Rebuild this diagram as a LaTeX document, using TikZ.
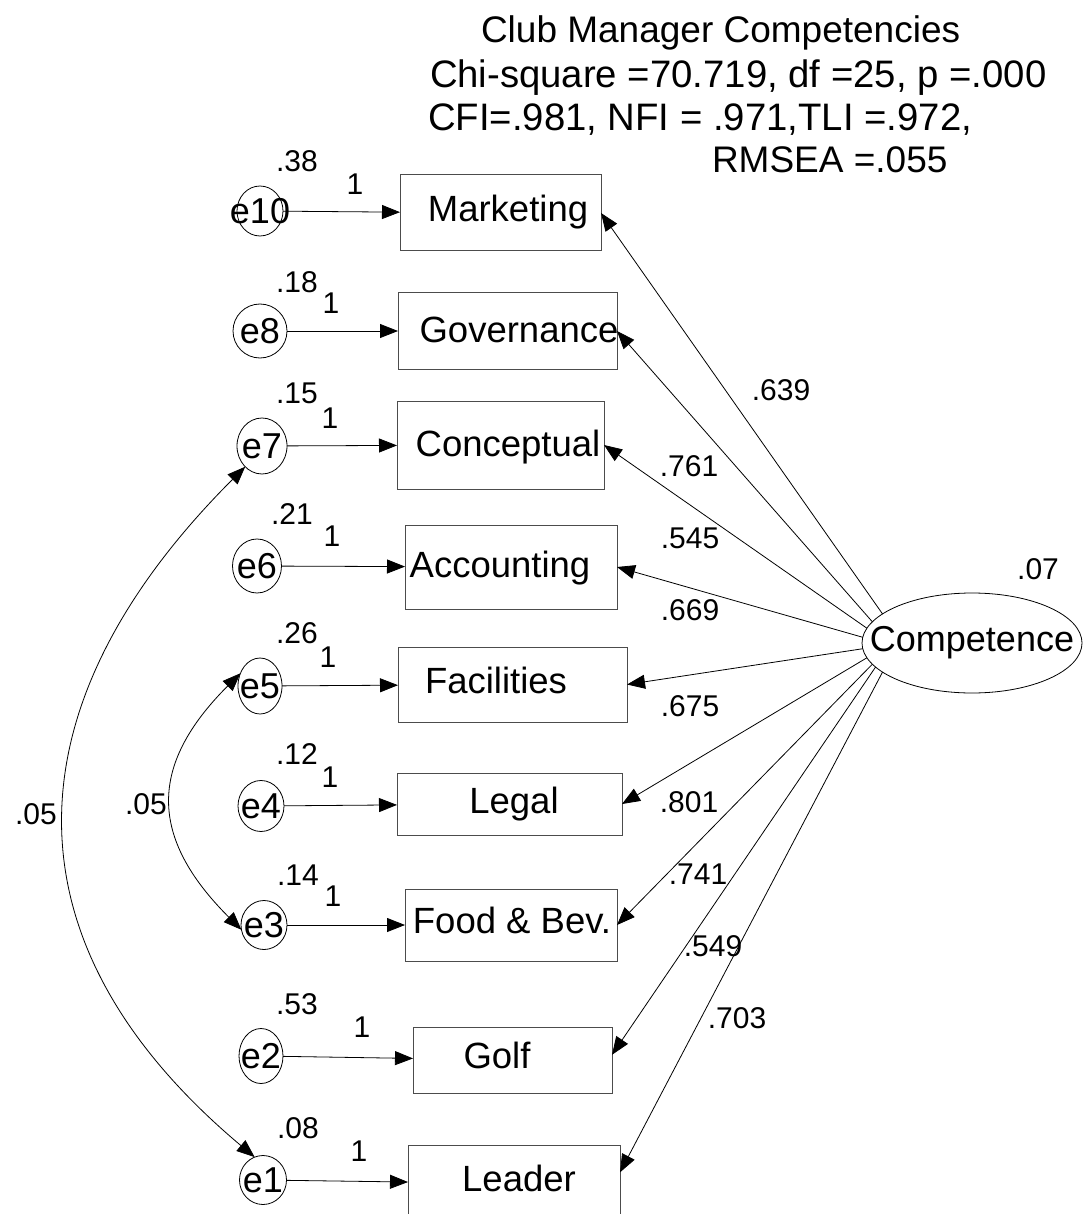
\documentclass[tikz,border=0pt]{standalone}
\usepackage{fontspec}
\setmainfont{Liberation Sans}
\usetikzlibrary{arrows.meta,shapes.geometric}
\begin{document}
\begin{tikzpicture}[x=1pt,y=1pt,
  every node/.style={inner sep=0pt, outer sep=0pt},
  big/.style={font=\fontsize{36.5}{43}\selectfont},
  num/.style={font=\fontsize{30}{36}\selectfont},
  ttl/.style={font=\fontsize{37}{44}\selectfont, anchor=base west},
  ttlw/.style={font=\fontsize{38.3}{44}\selectfont, anchor=base west},
  obs/.style={draw=black!70, line width=1pt, rectangle},
  err/.style={draw, ellipse, line width=0.8pt, font=\fontsize{36}{43}\selectfont},
  arr/.style={-{Triangle[length=18pt,width=14pt]}, line width=0.8pt},
  biarr/.style={{Triangle[length=18pt,width=14pt]}-{Triangle[length=18pt,width=14pt]}, line width=0.8pt}
]
\useasboundingbox (0,0) rectangle (1085,-1214);

% title
\node[ttl] (t1) at (481,-43) {Club Manager Competencies};
\node[ttlw] (t2) at (430,-88) {Chi-square =70.719, df =25, p =.000};
\node[ttlw] (t3) at (428,-131) {CFI=.981, NFI = .971,TLI =.972,};
\node[ttl] (t4) at (712,-173) {RMSEA =.055};

% observed boxes
\node[obs, minimum width=201pt, minimum height=76pt] (mkt)  at (500.5,-213) {};
\node[obs, minimum width=219pt, minimum height=76pt] (gov)  at (507.5,-331) {};
\node[obs, minimum width=207pt, minimum height=88pt] (con)  at (500.5,-445) {};
\node[obs, minimum width=212pt, minimum height=84pt] (acc)  at (511,-567) {};
\node[obs, minimum width=229pt, minimum height=75pt] (fac)  at (512.5,-684.5) {};
\node[obs, minimum width=225pt, minimum height=62pt] (leg)  at (509.5,-804) {};
\node[obs, minimum width=212pt, minimum height=72pt] (food) at (511,-925) {};
\node[obs, minimum width=199pt, minimum height=66pt] (golf) at (512.5,-1060) {};
\node[obs, minimum width=212pt, minimum height=77pt] (lead) at (514,-1183.5) {};

% box texts
\node[big, anchor=base] (tmkt)  at (508,-222) {Marketing};
\node[big, anchor=base] (tgov)  at (519,-342) {Governance};
\node[big, anchor=base] (tcon)  at (508,-456) {Conceptual};
\node[big, anchor=base] (tacc)  at (500,-577) {Accounting};
\node[big, anchor=base] (tfac)  at (496,-693) {Facilities};
\node[big, anchor=base] (tleg)  at (514,-813) {Legal};
\node[big, anchor=base] (tfood) at (512,-933) {Food \& Bev.};
\node[big, anchor=base] (tgolf) at (497,-1068) {Golf};
\node[big, anchor=base] (tlead) at (519,-1191) {Leader};

% error terms
\node[err, minimum width=46pt, minimum height=50pt] (e10) at (260,-211) {\makebox[0pt]{e10}};
\node[err, minimum width=54pt, minimum height=54pt] (e8)  at (260,-331) {\makebox[0pt]{e8}};
\node[err, minimum width=50pt, minimum height=56pt] (e7)  at (262,-446) {\makebox[0pt]{e7}};
\node[err, minimum width=49pt, minimum height=54pt] (e6)  at (257,-566) {\makebox[0pt]{e6}};
\node[err, minimum width=44pt, minimum height=56pt] (e5)  at (260,-686) {\makebox[0pt]{e5}};
\node[err, minimum width=46pt, minimum height=51pt] (e4)  at (261,-806) {\makebox[0pt]{e4}};
\node[err, minimum width=46pt, minimum height=49pt] (e3)  at (264,-925) {\makebox[0pt]{e3}};
\node[err, minimum width=44pt, minimum height=55pt] (e2)  at (261,-1056) {\makebox[0pt]{e2}};
\node[err, minimum width=47pt, minimum height=49pt] (e1)  at (263,-1180) {\makebox[0pt]{e1}};

% latent
\node[err, minimum width=220pt, minimum height=100pt] (comp) at (972,-643) {\makebox[0pt]{Competence}};

% error paths
\draw[arr] (e10) -- (mkt);
\draw[arr] (e8) -- (gov);
\draw[arr] (e7) -- (con);
\draw[arr] (e6) -- (acc);
\draw[arr] (e5) -- (fac);
\draw[arr] (e4) -- (leg);
\draw[arr] (e3) -- (food);
\draw[arr] (e2) -- (golf);
\draw[arr] (e1) -- (lead);

% loadings
\draw[arr] (comp.162) -- (mkt.east);
\draw[arr] (comp.168) -- (gov.east);
\draw[arr] (comp.172) -- (con.east);
\draw[arr] (comp.177) -- (acc.east);
\draw[arr] (comp.183) -- (fac.east);
\draw[arr] (comp.188) -- (leg.east);
\draw[arr] (comp.192) -- (food.east);
\draw[arr] (comp.194) -- (golf.3);
\draw[arr] (comp.198) -- (lead.6);

% covariances
\draw[biarr] (e7.231) to[out=225,in=140,looseness=1.24] (e1.110);
\draw[biarr] (e5.147) to[out=225,in=135,looseness=1.3] (e3.192);

% variance labels
\node[num] (v10) at (297,-161) {.38};
\node[num] (v8)  at (297,-282) {.18};
\node[num] (v7)  at (297,-393) {.15};
\node[num] (v6)  at (292,-514) {.21};
\node[num] (v5)  at (297,-633) {.26};
\node[num] (v4)  at (297,-754) {.12};
\node[num] (v3)  at (298,-875) {.14};
\node[num] (v2)  at (297,-1004) {.53};
\node[num] (v1)  at (298,-1128) {.08};
\node[num] (vc)  at (1038,-569) {.07};

% path "1" labels
\node[num] (w10) at (355,-184) {1};
\node[num] (w8)  at (331,-303) {1};
\node[num] (w7)  at (330,-418) {1};
\node[num] (w6)  at (332,-536) {1};
\node[num] (w5)  at (328,-657) {1};
\node[num] (w4)  at (330,-777) {1};
\node[num] (w3)  at (333,-896) {1};
\node[num] (w2)  at (362,-1027) {1};
\node[num] (w1)  at (359,-1151) {1};

% loading labels
\node[num] (lmkt)  at (781,-390) {.639};
\node[num] (lgov)  at (689,-466) {.761};
\node[num] (lcon)  at (690,-538) {.545};
\node[num] (lacc)  at (690,-610) {.669};
\node[num] (lfac)  at (690,-706) {.675};
\node[num] (lleg)  at (689,-802) {.801};
\node[num] (lfood) at (698,-874) {.741};
\node[num] (lgolf) at (713,-946) {.549};
\node[num] (llead) at (737,-1018) {.703};

% covariance labels
\node[num] (c71) at (36,-814) {.05};
\node[num] (c53) at (146,-804) {.05};
\end{tikzpicture}
\end{document}
